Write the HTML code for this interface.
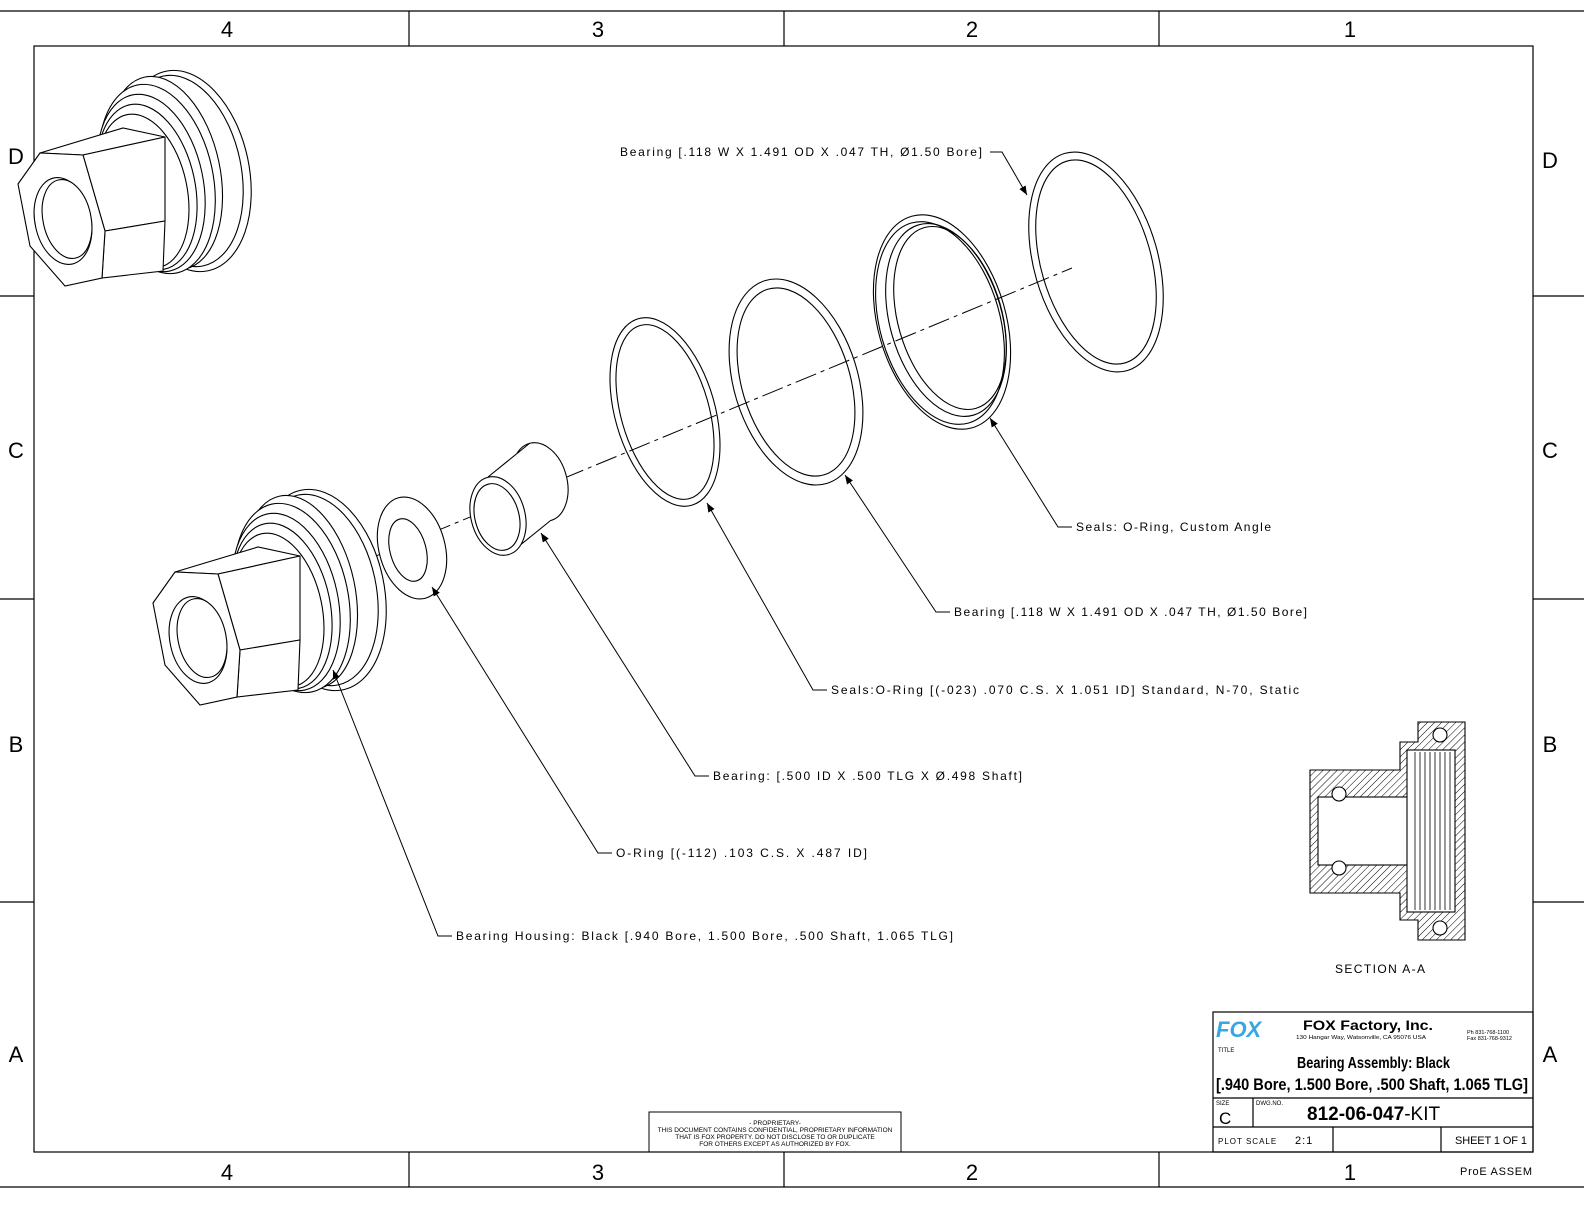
<!DOCTYPE html>
<html><head><meta charset="utf-8"><style>
html,body{margin:0;padding:0;background:#fff}
svg{display:block}
text{font-family:"Liberation Sans",sans-serif;fill:#000}
</style></head><body>
<svg width="1584" height="1224" viewBox="0 0 1584 1224" xmlns="http://www.w3.org/2000/svg">
<defs>
<marker id="ar" viewBox="0 0 10 10" refX="10" refY="5" markerWidth="9" markerHeight="9" orient="auto-start-reverse"><path d="M0,1 L10,5 L0,9 z" fill="#000"/></marker>
<pattern id="hatch" width="5" height="5" patternUnits="userSpaceOnUse" patternTransform="rotate(45)"><line x1="0" y1="0" x2="0" y2="5" stroke="#000" stroke-width="1"/></pattern>
<g id="housing" fill="#fff" stroke="#000" stroke-width="1.1">
 <ellipse cx="322" cy="590" rx="62" ry="102" transform="rotate(-12 322 590)"/>
 <ellipse cx="318" cy="590" rx="58" ry="97" transform="rotate(-12 318 590)"/>
 <ellipse cx="300" cy="592" rx="55" ry="98" transform="rotate(-12 300 592)"/>
 <ellipse cx="292" cy="598" rx="56" ry="96" transform="rotate(-12 292 598)"/>
 <ellipse cx="286" cy="602" rx="52" ry="90" transform="rotate(-12 286 602)"/>
 <ellipse cx="282" cy="606" rx="48" ry="84" transform="rotate(-12 282 606)"/>
 <ellipse cx="278" cy="610" rx="44" ry="78" transform="rotate(-12 278 610)"/>
 <path d="M175,572 L258,547 L300,556 L218,574 Z"/>
 <path d="M218,574 L300,556 L300,640 L240,650 Z"/>
 <path d="M240,650 L300,640 L298,690 L237,697 Z"/>
 <path d="M153,603 L175,572 L218,574 L240,650 L237,697 L200,705 L165,665 Z"/>
 <ellipse cx="198" cy="640" rx="28" ry="44" transform="rotate(-12 198 640)"/>
 <ellipse cx="202" cy="638" rx="24" ry="40" transform="rotate(-12 202 638)"/>
</g>
</defs>
<rect width="1584" height="1224" fill="#fff"/>
<g stroke="#000" stroke-width="1.2" fill="none">
<line x1="0" y1="11" x2="1584" y2="11"/>
<line x1="0" y1="1187" x2="1584" y2="1187"/>
<rect x="34" y="46" width="1499" height="1106"/>
<line x1="409" y1="11" x2="409" y2="46"/><line x1="784" y1="11" x2="784" y2="46"/><line x1="1159" y1="11" x2="1159" y2="46"/>
<line x1="409" y1="1152" x2="409" y2="1187"/><line x1="784" y1="1152" x2="784" y2="1187"/><line x1="1159" y1="1152" x2="1159" y2="1187"/>
<line x1="0" y1="296" x2="34" y2="296"/><line x1="0" y1="599" x2="34" y2="599"/><line x1="0" y1="902" x2="34" y2="902"/>
<line x1="1533" y1="296" x2="1584" y2="296"/><line x1="1533" y1="599" x2="1584" y2="599"/><line x1="1533" y1="902" x2="1584" y2="902"/>
</g>
<g font-size="22" text-anchor="middle">
<text x="227" y="37">4</text><text x="598" y="37">3</text><text x="972" y="37">2</text><text x="1350" y="37">1</text>
<text x="227" y="1180">4</text><text x="598" y="1180">3</text><text x="972" y="1180">2</text><text x="1350" y="1180">1</text>
<text x="16" y="164">D</text><text x="16" y="458">C</text><text x="16" y="752">B</text><text x="16" y="1062">A</text>
<text x="1550" y="168">D</text><text x="1550" y="458">C</text><text x="1550" y="752">B</text><text x="1550" y="1062">A</text>
</g>
<line x1="330" y1="575" x2="1072" y2="268" stroke="#000" stroke-width="1" stroke-dasharray="22,5,4,5"/>
<use href="#housing"/>
<use href="#housing" transform="translate(-135,-419)"/>
<g fill="none" stroke="#000" stroke-width="1.1">
 <ellipse cx="412" cy="548" rx="33" ry="52" transform="rotate(-15 412 548)" fill="#fff"/>
 <ellipse cx="408" cy="550" rx="18" ry="32" transform="rotate(-15 408 550)"/>
 <ellipse cx="540" cy="482" rx="27" ry="40" transform="rotate(-15 540 482)" fill="#fff"/>
 <path d="M488,477 L530,443 L550,521 L508,555 Z" fill="#fff" stroke="none"/>
 <line x1="488" y1="477" x2="530" y2="443"/><line x1="508" y1="555" x2="550" y2="521"/>
 <ellipse cx="498" cy="516" rx="27" ry="40" transform="rotate(-15 498 516)" fill="#fff"/>
 <ellipse cx="497" cy="517" rx="22" ry="34" transform="rotate(-15 497 517)"/>
 <ellipse cx="665" cy="412" rx="50" ry="97" transform="rotate(-16 665 412)"/>
 <ellipse cx="665" cy="412" rx="44" ry="90" transform="rotate(-16 665 412)"/>
 <ellipse cx="796" cy="382" rx="62" ry="106" transform="rotate(-17 796 382)"/>
 <ellipse cx="796" cy="382" rx="54" ry="97" transform="rotate(-17 796 382)"/>
 <ellipse cx="942" cy="322" rx="64" ry="110" transform="rotate(-16 942 322)"/>
 <ellipse cx="940" cy="323" rx="60" ry="104" transform="rotate(-16 940 323)"/>
 <ellipse cx="946" cy="320" rx="56" ry="99" transform="rotate(-16 946 320)"/>
 <ellipse cx="950" cy="318" rx="52" ry="94" transform="rotate(-16 950 318)"/>
 <ellipse cx="1096" cy="262" rx="62" ry="113" transform="rotate(-16 1096 262)"/>
 <ellipse cx="1096" cy="262" rx="55" ry="105" transform="rotate(-16 1096 262)"/>
</g>
<g stroke="#000" stroke-width="1" fill="none" marker-end="url(#ar)">
 <polyline points="990,152 1002,152 1027,195"/>
 <polyline points="1072,527 1058,527 990,418"/>
 <polyline points="950,612 936,612 845,475"/>
 <polyline points="827,690 813,690 707,503"/>
 <polyline points="709,776 695,776 541,533"/>
 <polyline points="612,853 598,853 432,587"/>
 <polyline points="452,936 438,936 333,670"/>
</g>
<g font-size="12" lengthAdjust="spacing">
<text x="620" y="156" textLength="362">Bearing [.118 W X 1.491 OD X .047 TH, Ø1.50 Bore]</text>
<text x="1076" y="531" textLength="195">Seals: O-Ring, Custom Angle</text>
<text x="954" y="616" textLength="353">Bearing [.118 W X 1.491 OD X .047 TH, Ø1.50 Bore]</text>
<text x="831" y="694" textLength="468">Seals:O-Ring [(-023) .070 C.S. X 1.051 ID] Standard, N-70, Static</text>
<text x="713" y="780" textLength="309">Bearing: [.500 ID X .500 TLG X Ø.498 Shaft]</text>
<text x="616" y="857" textLength="251">O-Ring [(-112) .103 C.S. X .487 ID]</text>
<text x="456" y="940" textLength="497">Bearing Housing: Black [.940 Bore, 1.500 Bore, .500 Shaft, 1.065 TLG]</text>
</g>
<g stroke="#000" stroke-width="1.1">
 <path d="M1310,770 L1400,770 L1400,742 L1418,742 L1418,722 L1465,722 L1465,940 L1418,940 L1418,920 L1400,920 L1400,893 L1310,893 Z" fill="url(#hatch)"/>
 <rect x="1318" y="797" width="92" height="68" fill="#fff"/>
 <rect x="1407" y="750" width="48" height="162" fill="#fff"/>
 <g stroke-width="0.8">
  <line x1="1415" y1="752" x2="1415" y2="910"/><line x1="1420" y1="752" x2="1420" y2="910"/><line x1="1425" y1="752" x2="1425" y2="910"/><line x1="1430" y1="752" x2="1430" y2="910"/><line x1="1435" y1="752" x2="1435" y2="910"/><line x1="1440" y1="752" x2="1440" y2="910"/><line x1="1445" y1="752" x2="1445" y2="910"/><line x1="1450" y1="752" x2="1450" y2="910"/>
 </g>
 <circle cx="1339" cy="794" r="7" fill="#fff"/><circle cx="1339" cy="868" r="7" fill="#fff"/>
 <circle cx="1440" cy="735" r="7" fill="#fff"/><circle cx="1440" cy="928" r="7" fill="#fff"/>
</g>
<text x="1335" y="973" font-size="12" textLength="90" lengthAdjust="spacing">SECTION  A-A</text>
<rect x="649" y="1112" width="252" height="40" fill="none" stroke="#000" stroke-width="1"/>
<g font-size="6.5" text-anchor="middle"><text x="775" y="1125">- PROPRIETARY-</text><text x="775" y="1132">THIS DOCUMENT CONTAINS CONFIDENTIAL, PROPRIETARY INFORMATION</text><text x="775" y="1139">THAT IS FOX PROPERTY.  DO NOT DISCLOSE TO OR DUPLICATE</text><text x="775" y="1146">FOR OTHERS EXCEPT AS AUTHORIZED BY FOX.</text></g>
<g stroke="#000" stroke-width="1.2" fill="none">
 <rect x="1213" y="1012" width="320" height="140"/>
 <line x1="1213" y1="1098" x2="1533" y2="1098"/>
 <line x1="1213" y1="1127" x2="1533" y2="1127"/>
 <line x1="1253" y1="1098" x2="1253" y2="1127"/>
 <line x1="1333" y1="1127" x2="1333" y2="1152"/>
 <line x1="1441" y1="1127" x2="1441" y2="1152"/>
</g>
<text x="1216" y="1037" font-size="22" font-weight="bold" font-style="italic" style="fill:#3aa6e0">FOX</text>
<text x="1303" y="1030" font-size="14" font-weight="bold" textLength="130" lengthAdjust="spacingAndGlyphs">FOX Factory, Inc.</text>
<text x="1296" y="1039" font-size="5.5" textLength="130" lengthAdjust="spacingAndGlyphs">130 Hangar Way, Watsonville, CA 95076 USA</text>
<text x="1467" y="1034" font-size="5.5">Ph 831-768-1100</text><text x="1467" y="1040" font-size="5.5">Fax 831-768-9312</text>
<text x="1218" y="1052" font-size="6">TITLE</text>
<text x="1297" y="1068" font-size="16" font-weight="bold" textLength="153" lengthAdjust="spacingAndGlyphs">Bearing Assembly: Black</text>
<text x="1216" y="1090" font-size="17" font-weight="bold" textLength="312" lengthAdjust="spacingAndGlyphs">[.940 Bore, 1.500 Bore, .500 Shaft, 1.065 TLG]</text>
<text x="1216" y="1105" font-size="6">SIZE</text><text x="1256" y="1105" font-size="6">DWG.NO.</text>
<text x="1219" y="1124" font-size="17">C</text>
<text x="1307" y="1120" font-size="19" font-weight="bold">812-06-047<tspan font-weight="normal">-KIT</tspan></text>
<text x="1218" y="1144" font-size="8" letter-spacing="1">PLOT SCALE</text>
<text x="1295" y="1144" font-size="11" letter-spacing="1">2:1</text>
<text x="1455" y="1144" font-size="11" textLength="72" lengthAdjust="spacing">SHEET 1 OF 1</text>
<text x="1460" y="1175" font-size="11" textLength="72" lengthAdjust="spacing">ProE ASSEM</text>
</svg>
</body></html>
